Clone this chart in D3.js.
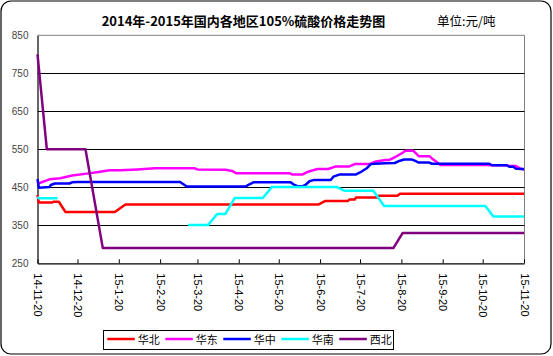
<!DOCTYPE html>
<html>
<head>
<meta charset="utf-8">
<script src="https://cdn.jsdelivr.net/npm/d3@7"></script>
<style>
  html, body { margin: 0; padding: 0; background: #fff; }
  svg { display: block; }
</style>
</head>
<body>
<svg id="chart" width="553" height="356"></svg>
<script>
// ---------------- DATA ----------------
const titleText = "2014年-2015年国内各地区105%硫酸价格走势图";
const unitText = "单位:元/吨";
const seriesNames = ["华北", "华东", "华中", "华南", "西北"];
const seriesColors = ["#FF0000", "#FF00FF", "#0000FF", "#00FFFF", "#800080"];
const yTicks = [250, 350, 450, 550, 650, 750, 850];
const xTickDates = ["2014-11-20","2014-12-20","2015-01-20","2015-02-20","2015-03-20","2015-04-20",
  "2015-05-20","2015-06-20","2015-07-20","2015-08-20","2015-09-20","2015-10-20","2015-11-20"];

// 华北
const northDates = ["2014-11-20","2014-11-21","2014-12-01","2014-12-02","2014-12-06","2014-12-11",
  "2015-01-17","2015-01-25","2015-06-19","2015-06-24","2015-07-11","2015-07-12","2015-07-16",
  "2015-07-17","2015-08-02","2015-08-03","2015-08-17","2015-08-19","2015-11-20"];
const northVals = [430,410,410,412,412,385,385,405,405,414,414,418,418,423,423,428,428,433,433];

// 华东
const eastDates = ["2014-11-20","2014-11-22","2014-11-29","2014-12-07","2014-12-16","2014-12-27",
  "2015-01-06","2015-01-13","2015-01-21","2015-02-03","2015-02-16","2015-03-18","2015-03-20",
  "2015-04-10","2015-04-15","2015-04-18","2015-05-28","2015-05-30","2015-06-07","2015-06-11",
  "2015-06-18","2015-06-26","2015-07-02","2015-07-12","2015-07-16","2015-07-27","2015-07-31",
  "2015-08-08","2015-08-11","2015-08-16","2015-08-21","2015-08-23","2015-08-29","2015-08-31",
  "2015-09-02","2015-09-10","2015-09-12","2015-09-16","2015-09-18","2015-10-24","2015-10-25",
  "2015-11-07","2015-11-09","2015-11-14","2015-11-17","2015-11-20"];
const eastVals = [458,462,471,474,481,486,491,495,495,497,500,500,497,496,493,487,487,484,484,491,
  498,498,505,505,511,511,517,522,522,531,541,546,546,539,532,532,526,515,509,509,508,
  508,506,506,500,496];

// 华中
const centralDates = ["2014-11-20","2014-11-21","2014-11-29","2014-11-30","2014-12-03","2014-12-14",
  "2014-12-16","2014-12-20","2015-03-07","2015-03-12","2015-04-25","2015-04-28","2015-05-01",
  "2015-05-29","2015-05-31","2015-06-03","2015-06-07","2015-06-09","2015-06-12","2015-06-15",
  "2015-06-28","2015-06-30","2015-07-05","2015-07-17","2015-07-20","2015-07-25","2015-07-28",
  "2015-07-31","2015-08-08","2015-08-15","2015-08-19","2015-08-22","2015-08-28","2015-08-30",
  "2015-09-02","2015-09-10","2015-09-12","2015-10-25","2015-10-27","2015-11-07","2015-11-09",
  "2015-11-12","2015-11-14","2015-11-20"];
const centralVals = [472,449,451,456,460,460,463,464,464,452,452,458,463,463,458,453,453,456,466,469,
  469,478,484,484,489,500,511,512,513,514,520,523,523,520,515,515,512,512,508,508,504,
  504,499,498];

// 华南 (null = no data)
const southDates = ["2014-11-20","2014-11-21","2014-12-05","2014-12-06","2015-03-13","2015-03-28",
  "2015-04-02","2015-04-04","2015-04-10","2015-04-17","2015-05-08","2015-05-15","2015-07-02",
  "2015-07-06","2015-07-08","2015-07-30","2015-08-03","2015-08-07","2015-10-22","2015-10-28",
  "2015-11-20"];
const southVals = [425,421,421,null,351,351,372,380,380,422,422,451,451,445,441,441,421,401,401,373,373];

// 西北
const northwestDates = ["2014-11-20","2014-11-27","2014-12-26","2015-01-08","2015-08-14","2015-08-21","2015-11-20"];
const northwestVals = [800,550,550,290,290,330,330];

// ---------------- CHART ----------------
const parse = d3.utcParse("%Y-%m-%d");
const svg = d3.select("#chart");
const L = 37.5, R = 524, T = 35.3, B = 263.3;

const x = d3.scaleUtc()
  .domain([parse("2014-11-20"), parse("2015-11-20")])
  .range([L, R]);
const y = d3.scaleLinear().domain([250, 850]).range([B, T]);

// outer rounded border
svg.append("rect").attr("x", 1).attr("y", 1).attr("width", 550).attr("height", 353)
  .attr("rx", 10).attr("fill", "#fff").attr("stroke", "#000").attr("stroke-width", 1.2);

// title
svg.append("text").attr("x", 243.5).attr("y", 26).attr("text-anchor", "middle")
  .attr("font-family", "'Noto Sans CJK SC', sans-serif").attr("font-weight", "bold")
  .attr("font-size", 13).attr("fill", "#000").text(titleText);
svg.append("text").attr("x", 437).attr("y", 26).attr("text-anchor", "start")
  .attr("font-family", "'Noto Sans CJK SC', sans-serif")
  .attr("font-size", 12.5).attr("fill", "#000").text(unitText);

// plot frame (top/right gray)
svg.append("path")
  .attr("d", `M${L},${T}H${R + 0.5}V${B}`)
  .attr("fill", "none").attr("stroke", "#808080").attr("stroke-width", 1);

// gridlines
svg.append("g").selectAll("line")
  .data(yTicks.filter(v => v > 250 && v < 850))
  .join("line")
  .attr("x1", L).attr("x2", R + 0.5)
  .attr("y1", d => Math.round(y(d)) + 0.5).attr("y2", d => Math.round(y(d)) + 0.5)
  .attr("stroke", "#000").attr("stroke-width", 1);

// y axis
const yAxis = svg.append("g").attr("transform", `translate(${L},0)`)
  .call(d3.axisLeft(y).tickValues(yTicks).tickSize(0).tickPadding(9));
yAxis.select(".domain").attr("stroke", "#000").attr("stroke-width", 1.2);
yAxis.selectAll("text").attr("font-family", "'Liberation Sans', Arial, sans-serif")
  .attr("font-size", 10).attr("fill", "#444");

// x axis
const xAxis = svg.append("g").attr("transform", `translate(0,${B})`)
  .call(d3.axisBottom(x).tickValues(xTickDates.map(parse))
    .tickSize(-4).tickSizeOuter(0).tickFormat(d3.utcFormat("%y-%-m-%d")));
xAxis.select(".domain").attr("stroke", "#000").attr("stroke-width", 1.2);
xAxis.selectAll(".tick line").attr("stroke", "#000");
xAxis.selectAll("text")
  .attr("transform", "rotate(90)")
  .attr("x", 10).attr("y", 0).attr("dy", "0.35em")
  .attr("text-anchor", "start")
  .attr("font-family", "'Liberation Sans', Arial, sans-serif")
  .attr("font-size", 11).attr("fill", "#000");

// lines
const allSeries = [
  [northDates, northVals],
  [eastDates, eastVals],
  [centralDates, centralVals],
  [southDates, southVals],
  [northwestDates, northwestVals]
];
const line = d3.line()
  .defined(d => d.v !== null)
  .x(d => x(d.d)).y(d => y(d.v));

const lineG = svg.append("g");
allSeries.forEach(([dates, vals], i) => {
  const pts = dates.map((s, j) => ({ d: parse(s), v: vals[j] }));
  lineG.append("path").datum(pts)
    .attr("d", line)
    .attr("fill", "none")
    .attr("stroke", seriesColors[i])
    .attr("stroke-width", 2.5)
    .attr("stroke-linejoin", "round");
});

// legend
const lg = svg.append("g");
lg.append("rect").attr("x", 103.5).attr("y", 330.5).attr("width", 290).attr("height", 19)
  .attr("fill", "#fff").attr("stroke", "#000").attr("stroke-width", 1);
seriesNames.forEach((name, i) => {
  const x0 = 107.3 + i * 58;
  lg.append("line").attr("x1", x0).attr("x2", x0 + 27.5)
    .attr("y1", 339).attr("y2", 339)
    .attr("stroke", seriesColors[i]).attr("stroke-width", 2.5);
  lg.append("text").attr("x", x0 + 30.5).attr("y", 343.5)
    .attr("font-family", "'Noto Sans CJK SC', sans-serif")
    .attr("font-size", 11).attr("fill", "#000").text(name);
});
</script>
</body>
</html>
